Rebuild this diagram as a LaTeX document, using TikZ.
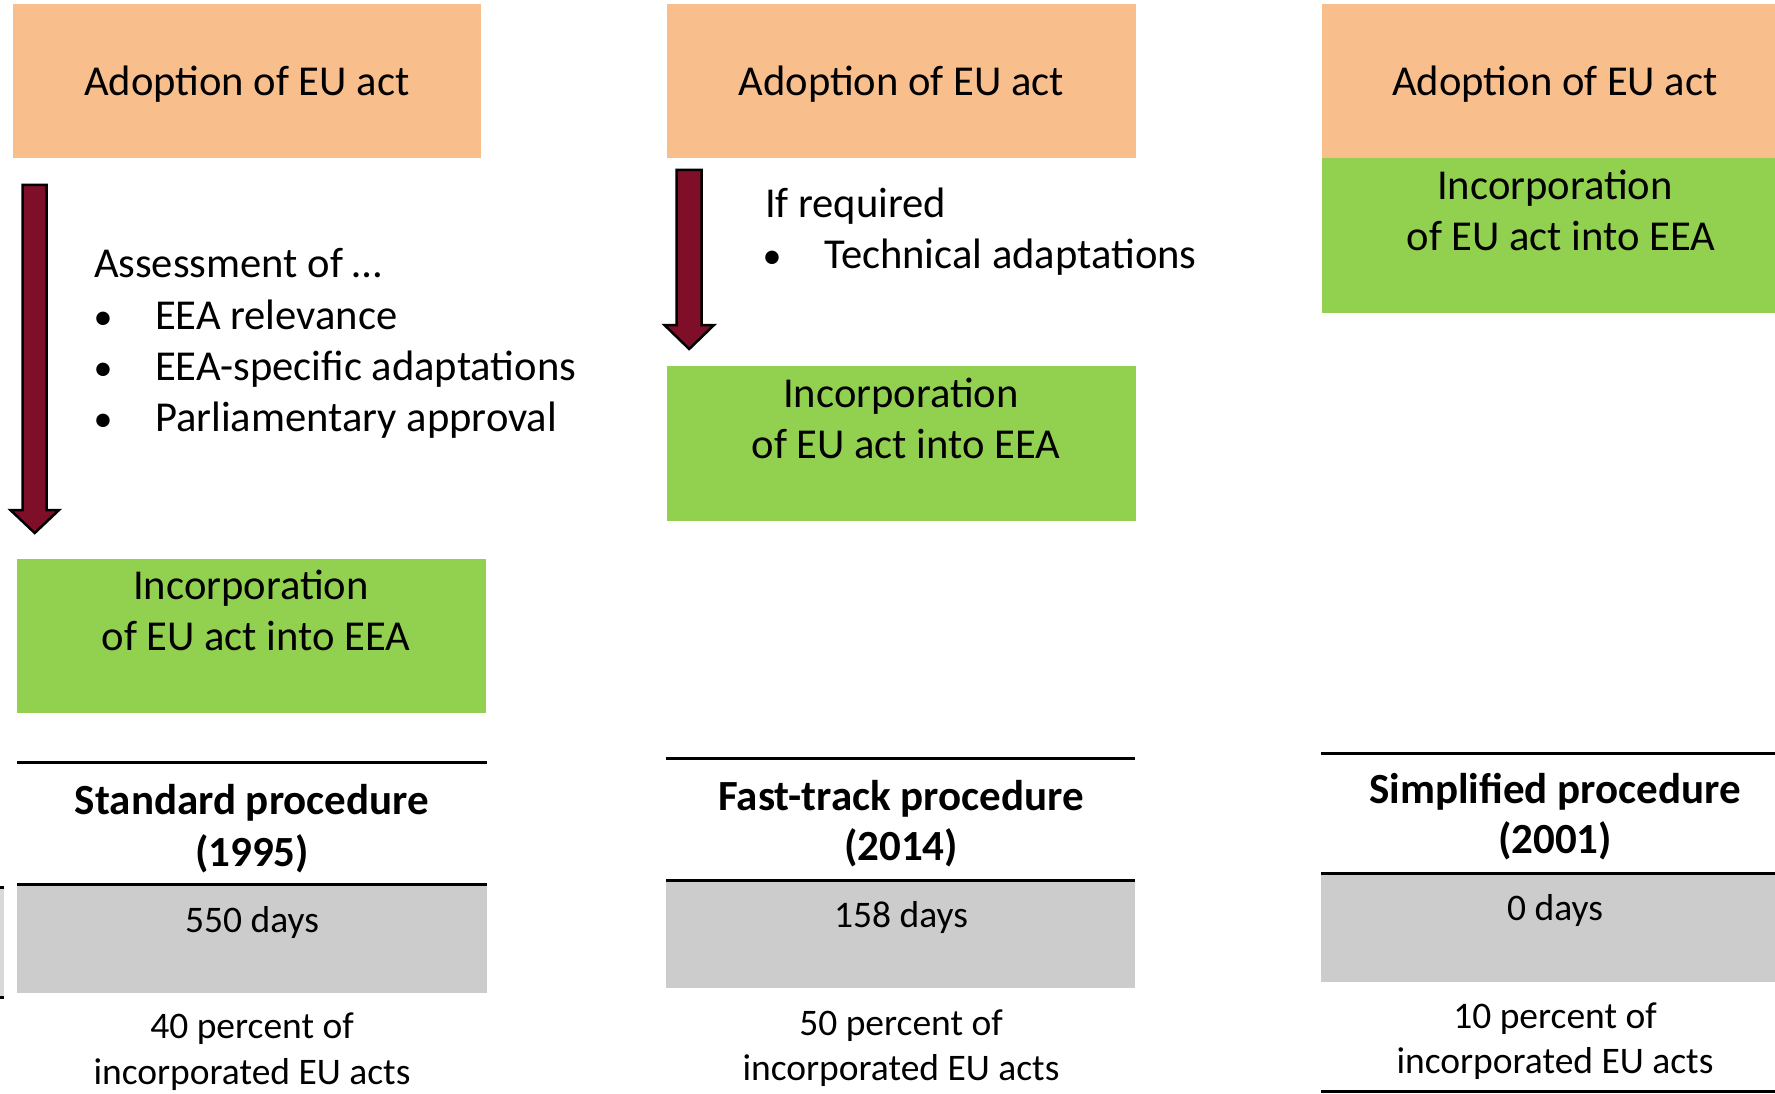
\documentclass[tikz,border=0pt]{standalone}
\usepackage{fontspec}
\setmainfont{Carlito}
\definecolor{adoptfill}{RGB}{248,191,141}
\definecolor{incfill}{RGB}{146,208,80}
\definecolor{dayfill}{RGB}{204,204,204}
\definecolor{arrowfill}{RGB}{127,15,40}
\begin{document}
\begin{tikzpicture}[x=1pt,y=-1pt,
  every node/.style={inner sep=0pt, outer sep=0pt},
  bigtxt/.style={font=\fontsize{42.6}{52}\selectfont, text height=27.5pt, text depth=0pt},
  bullettxt/.style={font=\fontsize{38}{44}\selectfont, text height=27.5pt, text depth=0pt},
  hdrtxt/.style={font=\bfseries\fontsize{43}{52}\selectfont, text height=27.7pt, text depth=0pt},
  smalltxt/.style={font=\fontsize{37.5}{44}\selectfont, text height=24pt, text depth=0pt},
  adoptbox/.style={fill=adoptfill, minimum width=468.5pt, minimum height=154pt},
  incbox/.style={fill=incfill, minimum width=469pt, minimum height=154pt},
  rulebar/.style={line width=3pt},
  daybox/.style={fill=dayfill},
  blockarrow/.style={fill=arrowfill, draw=black, line width=2.5pt, line join=miter},
]
\useasboundingbox (0,0) rectangle (1775,1094);

% ---------- edge piece on the far left ----------
\fill[gray!30] (0,887) rectangle (4,997);
\draw[rulebar] (0,887) -- (4,887);
\draw[rulebar] (0,997) -- (4,997);

% ---------- standard procedure ----------
\node[adoptbox] (a1) at (246.75,81.5) {};
\node[bigtxt] (a1t) at (246.75,81.5) {Adoption of EU act};
\draw[blockarrow] (22.7,185) -- (46.7,185) -- (46.7,510) -- (59,510)
  -- (34.7,533) -- (10.4,510) -- (22.7,510) -- cycle;
\node[bigtxt, anchor=west] (s1) at (94,264) {Assessment of …};
\node[bullettxt] (b11) at (103,316) {•};
\node[bigtxt, anchor=west] (s11) at (155,316) {EEA relevance};
\node[bullettxt] (b12) at (103,367) {•};
\node[bigtxt, anchor=west] (s12) at (155,367) {EEA-specific adaptations};
\node[bullettxt] (b13) at (103,418) {•};
\node[bigtxt, anchor=west] (s13) at (155,418) {Parliamentary approval};
\node[incbox] (g1) at (251.5,636) {};
\node[bigtxt] (g1a) at (251,586) {Incorporation};
\node[bigtxt] (g1b) at (256,637) {of EU act into EEA};
\draw[rulebar] (17,762.5) -- (487,762.5);
\fill[daybox] (17,884) rectangle (487,993);
\draw[rulebar] (17,884) -- (487,884);
\node[hdrtxt] (h1a) at (252,801) {Standard procedure};
\node[hdrtxt] (h1b) at (252,853) {(1995)};
\node[smalltxt] (d1) at (252,920) {550 days};
\node[smalltxt] (p1a) at (252,1026) {40 percent of};
\node[smalltxt] (p1b) at (252,1072) {incorporated EU acts};

% ---------- fast-track procedure ----------
\node[adoptbox] (a2) at (901.25,81.5) {};
\node[bigtxt] (a2t) at (901.25,81.5) {Adoption of EU act};
\draw[blockarrow] (676.7,170) -- (701.7,170) -- (701.7,325) -- (714,325)
  -- (689.2,349) -- (664.4,325) -- (676.7,325) -- cycle;
\node[bigtxt, anchor=west] (s2) at (765,204) {If required};
\node[bullettxt] (b21) at (772,255) {•};
\node[bigtxt, anchor=west] (s21) at (824,255) {Technical adaptations};
\node[incbox, minimum height=155pt] (g2) at (901.25,443.5) {};
\node[bigtxt] (g2a) at (901,394) {Incorporation};
\node[bigtxt] (g2b) at (906,445) {of EU act into EEA};
\draw[rulebar] (666,758.5) -- (1135,758.5);
\fill[daybox] (666,880) rectangle (1135,988);
\draw[rulebar] (666,880) -- (1135,880);
\node[hdrtxt] (h2a) at (901,797) {Fast-track procedure};
\node[hdrtxt] (h2b) at (901,847) {(2014)};
\node[smalltxt] (d2) at (901,915) {158 days};
\node[smalltxt] (p2a) at (901,1023) {50 percent of};
\node[smalltxt] (p2b) at (901,1068) {incorporated EU acts};

% ---------- simplified procedure ----------
\fill[adoptfill] (1322,4.5) rectangle (1775,158.5);
\node[bigtxt] (a3t) at (1555,81.5) {Adoption of EU act};
\fill[incfill] (1322,158.5) rectangle (1775,312.5);
\node[bigtxt] (g3a) at (1555,186) {Incorporation};
\node[bigtxt] (g3b) at (1561,237) {of EU act into EEA};
\draw[rulebar] (1321,753) -- (1775,753);
\fill[daybox] (1321,873) rectangle (1775,982);
\draw[rulebar] (1321,873) -- (1775,873);
\node[hdrtxt] (h3a) at (1555,790) {Simplified procedure};
\node[hdrtxt] (h3b) at (1555,840) {(2001)};
\node[smalltxt] (d3) at (1555,908) {0 days};
\node[smalltxt] (p3a) at (1555,1016) {10 percent of};
\node[smalltxt] (p3b) at (1555,1061) {incorporated EU acts};
\draw[rulebar] (1321,1091) -- (1775,1091);
\end{tikzpicture}
\end{document}
